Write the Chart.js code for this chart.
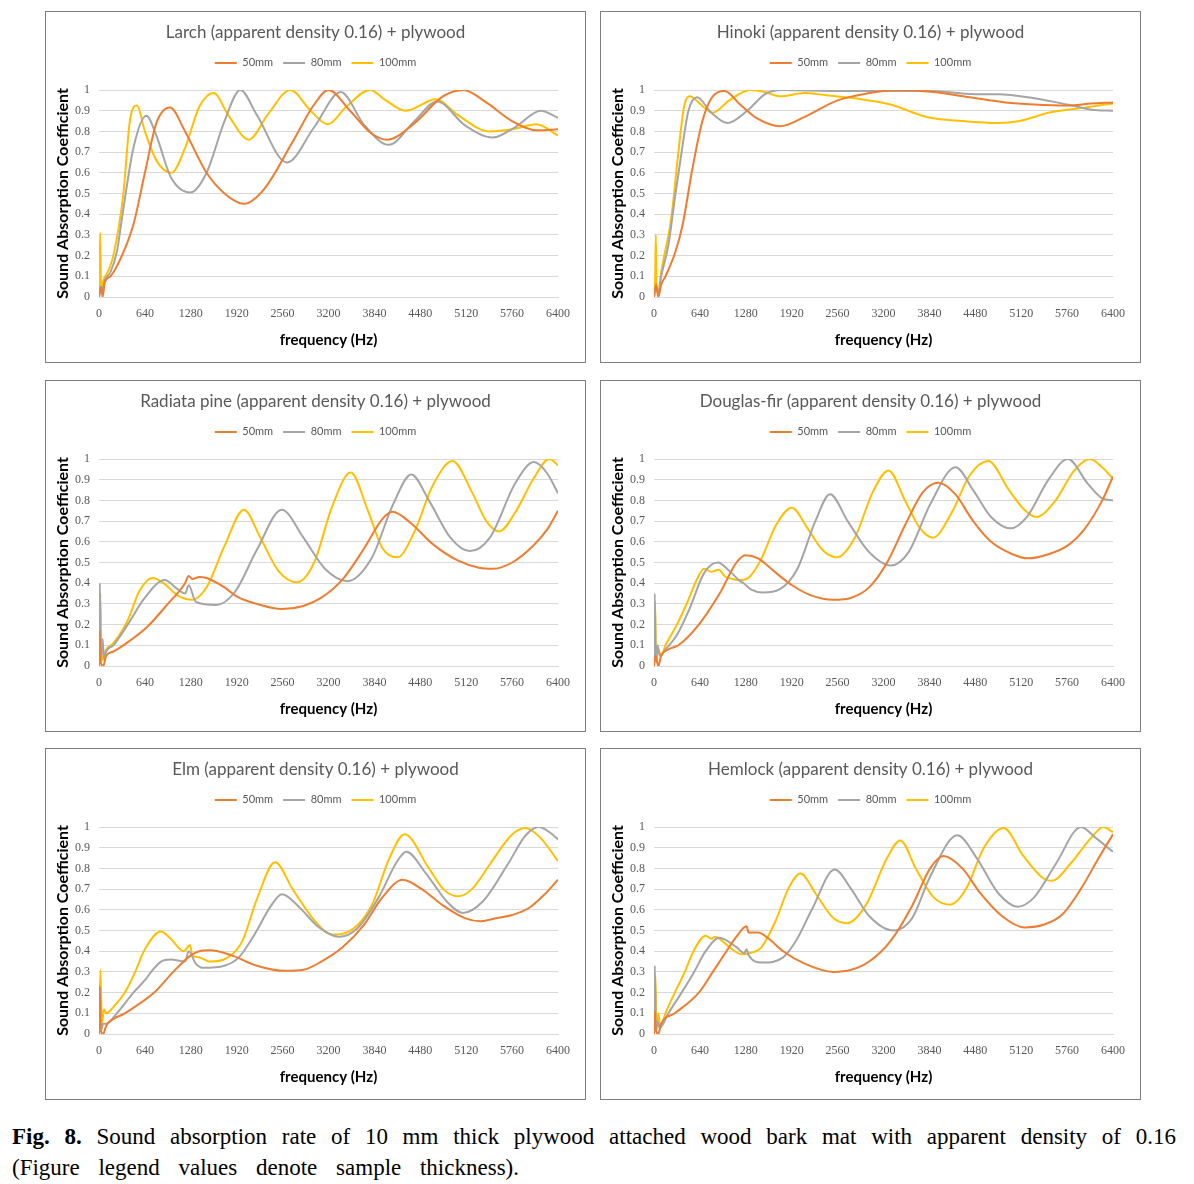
<!DOCTYPE html>
<html>
<head>
<meta charset="utf-8">
<script src="https://cdn.jsdelivr.net/npm/chart.js@4/dist/chart.umd.min.js"></script>
<style>
  body { margin: 0; background: #fff; width: 1194px; height: 1184px; position: relative; overflow: hidden; }
  .panel { position: absolute; width: 541px; height: 352px; box-sizing: border-box; border: 1px solid #7f7f7f; background: #fff; }
  .panel canvas { display: block; }
  .caption { position: absolute; left: 12px; top: 1121px; width: 1164px; font-family: "Liberation Serif", "Times New Roman", serif; font-size: 23px; line-height: 31px; color: #000; }
  .caption .l1 { text-align: justify; text-align-last: justify; white-space: nowrap; }
  .caption .l2 { word-spacing: 13px; white-space: nowrap; }
</style>
</head>
<body>
<div class="panel" style="left:45px;top:11px"><canvas id="c0" width="539" height="350"></canvas></div>
<div class="panel" style="left:600px;top:11px"><canvas id="c1" width="539" height="350"></canvas></div>
<div class="panel" style="left:45px;top:380px"><canvas id="c2" width="539" height="350"></canvas></div>
<div class="panel" style="left:600px;top:380px"><canvas id="c3" width="539" height="350"></canvas></div>
<div class="panel" style="left:45px;top:748px"><canvas id="c4" width="539" height="350"></canvas></div>
<div class="panel" style="left:600px;top:748px"><canvas id="c5" width="539" height="350"></canvas></div>
<div class="caption">
  <div class="l1"><b>Fig. 8.</b> Sound absorption rate of 10 mm thick plywood attached wood bark mat with apparent density of 0.16</div>
  <div class="l2">(Figure legend values denote sample thickness).</div>
</div>
<script>
const titles = [
  'Larch (apparent density 0.16) + plywood',
  'Hinoki (apparent density 0.16) + plywood',
  'Radiata pine (apparent density 0.16) + plywood',
  'Douglas-fir (apparent density 0.16) + plywood',
  'Elm (apparent density 0.16) + plywood',
  'Hemlock (apparent density 0.16) + plywood'
];
const seriesNames = ['50mm', '80mm', '100mm'];
const seriesColors = ['#ED7D31', '#A5A5A5', '#FFC000'];
const xTicks = [0, 640, 1280, 1920, 2560, 3200, 3840, 4480, 5120, 5760, 6400];

// [frequency (Hz), absorption coefficient]
const larch50 = [[0,0],[30,0.05],[50,0],[80,0.07],[160,0.1],[320,0.2],[480,0.35],[640,0.6],[800,0.84],[990,0.915],[1200,0.8],[1500,0.6],[1750,0.5],[2020,0.45],[2300,0.52],[2700,0.75],[3000,0.93],[3200,1.0],[3500,0.9],[3800,0.79],[4020,0.76],[4400,0.84],[4800,0.97],[5080,1.0],[5400,0.94],[5760,0.85],[6110,0.805],[6400,0.81]];
const larch80 = [[0,0],[20,0.05],[40,0.02],[80,0.08],[160,0.12],[250,0.22],[320,0.38],[480,0.72],[660,0.875],[800,0.78],[1000,0.58],[1275,0.505],[1500,0.6],[1750,0.85],[1970,1.0],[2200,0.88],[2620,0.65],[3000,0.82],[3370,0.99],[3700,0.83],[4040,0.735],[4400,0.85],[4715,0.945],[5100,0.83],[5490,0.77],[5800,0.82],[6160,0.9],[6400,0.865]];
const larch100 = [[0,0],[16,0.31],[30,0.03],[60,0.08],[120,0.12],[200,0.2],[340,0.5],[430,0.85],[530,0.925],[640,0.8],[800,0.66],[1010,0.6],[1200,0.72],[1400,0.92],[1600,0.985],[1800,0.88],[2090,0.76],[2350,0.88],[2670,1.0],[2950,0.9],[3190,0.835],[3450,0.92],[3780,1.0],[4000,0.95],[4270,0.9],[4700,0.955],[5000,0.88],[5440,0.8],[5760,0.81],[6100,0.835],[6400,0.78]];

const hinoki50 = [[0,0],[30,0.06],[60,0],[100,0.06],[160,0.1],[300,0.22],[400,0.35],[530,0.61],[675,0.85],[800,0.96],[985,0.995],[1200,0.93],[1450,0.86],[1755,0.825],[2100,0.87],[2560,0.95],[3000,0.985],[3400,1.0],[3900,0.99],[4400,0.965],[4900,0.94],[5300,0.93],[5760,0.925],[6100,0.935],[6400,0.94]];
const hinoki80 = [[0,0],[20,0.05],[60,0.02],[100,0.1],[200,0.25],[300,0.5],[385,0.7],[480,0.9],[600,0.965],[800,0.89],[1025,0.84],[1300,0.9],[1550,0.98],[1780,1.0],[2600,0.995],[3840,0.995],[4480,0.98],[4800,0.98],[5300,0.96],[5760,0.93],[6100,0.905],[6400,0.9]];
const hinoki100 = [[0,0],[16,0.08],[25,0.3],[35,0.05],[60,0.02],[100,0.12],[240,0.38],[340,0.7],[420,0.92],[505,0.97],[620,0.94],[816,0.89],[1050,0.95],[1345,1.0],[1550,0.99],[1755,0.97],[2100,0.985],[2400,0.975],[2800,0.96],[3300,0.93],[3800,0.87],[4300,0.85],[4800,0.84],[5100,0.85],[5500,0.89],[5900,0.91],[6400,0.935]];

const radiata50 = [[0,0],[10,0.17],[20,0.02],[60,0],[100,0.05],[200,0.07],[360,0.105],[675,0.19],[960,0.3],[1200,0.4],[1250,0.435],[1300,0.42],[1400,0.43],[1500,0.425],[1750,0.38],[1925,0.335],[2200,0.3],[2550,0.275],[2850,0.29],[3100,0.33],[3400,0.42],[3700,0.57],[3950,0.71],[4090,0.745],[4350,0.69],[4650,0.59],[5000,0.51],[5300,0.475],[5500,0.47],[5760,0.5],[6050,0.58],[6250,0.66],[6400,0.75]];
const radiata80 = [[0,0],[12,0.4],[25,0.03],[50,0.13],[70,0.03],[100,0.07],[200,0.1],[400,0.2],[640,0.33],[915,0.415],[1100,0.37],[1200,0.35],[1250,0.39],[1350,0.31],[1635,0.295],[1900,0.36],[2200,0.56],[2550,0.755],[2850,0.62],[3150,0.47],[3465,0.41],[3800,0.52],[4100,0.78],[4355,0.925],[4600,0.8],[4900,0.62],[5170,0.555],[5450,0.62],[5800,0.88],[6065,0.985],[6250,0.93],[6400,0.835]];
const radiata100 = [[0,0],[20,0.35],[30,0.02],[60,0.05],[100,0.08],[200,0.11],[400,0.22],[560,0.36],[745,0.425],[900,0.4],[1100,0.34],[1300,0.32],[1500,0.38],[1750,0.58],[2020,0.755],[2250,0.62],[2500,0.46],[2765,0.405],[3000,0.5],[3250,0.77],[3510,0.935],[3750,0.75],[3950,0.57],[4160,0.525],[4400,0.65],[4650,0.87],[4930,0.99],[5200,0.84],[5400,0.7],[5580,0.65],[5800,0.74],[6050,0.9],[6280,1.0],[6400,0.97]];

const douglas50 = [[0,0],[20,0.05],[60,0],[100,0.05],[200,0.08],[340,0.1],[625,0.2],[915,0.35],[1150,0.5],[1275,0.535],[1450,0.52],[1700,0.45],[1925,0.39],[2200,0.34],[2500,0.32],[2750,0.33],[3000,0.38],[3250,0.5],[3500,0.68],[3750,0.84],[3965,0.885],[4200,0.83],[4450,0.7],[4700,0.6],[5000,0.54],[5215,0.52],[5500,0.54],[5760,0.58],[6000,0.66],[6250,0.8],[6400,0.915]];
const douglas80 = [[0,0],[10,0.35],[25,0.02],[50,0.1],[80,0.05],[160,0.08],[320,0.15],[500,0.28],[700,0.45],[890,0.5],[1050,0.46],[1200,0.41],[1250,0.4],[1350,0.37],[1515,0.355],[1750,0.37],[2000,0.47],[2250,0.7],[2455,0.83],[2700,0.7],[3000,0.55],[3300,0.485],[3550,0.55],[3850,0.78],[4205,0.96],[4450,0.85],[4700,0.72],[4975,0.665],[5200,0.72],[5500,0.9],[5770,1.0],[6050,0.88],[6250,0.81],[6400,0.8]];
const douglas100 = [[0,0],[15,0.31],[30,0.02],[60,0.08],[100,0.05],[160,0.1],[320,0.2],[480,0.32],[600,0.42],[700,0.47],[800,0.455],[900,0.465],[1000,0.43],[1105,0.42],[1200,0.415],[1330,0.43],[1500,0.52],[1700,0.68],[1920,0.765],[2150,0.66],[2350,0.56],[2545,0.525],[2800,0.62],[3050,0.84],[3270,0.945],[3500,0.8],[3700,0.67],[3890,0.62],[4150,0.74],[4400,0.92],[4660,0.99],[4950,0.85],[5150,0.76],[5330,0.72],[5600,0.8],[5850,0.94],[6075,1.0],[6250,0.96],[6400,0.905]];

const elm50 = [[0,0],[8,0.23],[20,0.02],[60,0],[90,0.03],[120,0.05],[360,0.1],[770,0.2],[1035,0.3],[1280,0.38],[1395,0.4],[1550,0.405],[1850,0.38],[2200,0.33],[2600,0.305],[2850,0.31],[3100,0.35],[3400,0.42],[3700,0.53],[3950,0.66],[4235,0.745],[4500,0.7],[4800,0.62],[5100,0.56],[5320,0.545],[5550,0.56],[5760,0.575],[6000,0.61],[6200,0.67],[6400,0.745]];
const elm80 = [[0,0],[15,0.22],[30,0.02],[60,0.05],[100,0.05],[250,0.1],[480,0.2],[640,0.26],[750,0.31],[865,0.35],[1000,0.36],[1200,0.35],[1250,0.4],[1350,0.34],[1445,0.32],[1750,0.33],[1950,0.37],[2150,0.47],[2400,0.62],[2550,0.675],[2800,0.61],[3050,0.52],[3345,0.47],[3600,0.51],[3900,0.66],[4150,0.83],[4285,0.88],[4550,0.78],[4850,0.64],[5075,0.585],[5350,0.64],[5700,0.82],[5950,0.96],[6135,1.0],[6300,0.97],[6400,0.94]];
const elm100 = [[0,0],[20,0.31],[40,0.05],[70,0.12],[100,0.1],[200,0.13],[360,0.2],[505,0.3],[625,0.4],[865,0.495],[1000,0.46],[1180,0.4],[1270,0.43],[1300,0.38],[1400,0.37],[1540,0.35],[1800,0.37],[2000,0.45],[2200,0.65],[2455,0.83],[2700,0.7],[3000,0.55],[3250,0.48],[3450,0.49],[3800,0.62],[4050,0.85],[4260,0.965],[4600,0.8],[4800,0.7],[5005,0.665],[5200,0.7],[5450,0.82],[5750,0.96],[5940,0.995],[6150,0.95],[6400,0.835]];

const hemlock50 = [[0,0],[10,0.11],[25,0.02],[60,0],[100,0.05],[290,0.1],[625,0.2],[820,0.3],[1010,0.4],[1150,0.47],[1290,0.52],[1320,0.49],[1450,0.49],[1600,0.46],[1800,0.4],[2100,0.34],[2500,0.3],[2750,0.31],[3000,0.35],[3300,0.45],[3600,0.62],[3850,0.8],[4035,0.86],[4300,0.8],[4550,0.68],[4850,0.57],[5165,0.515],[5450,0.53],[5700,0.58],[5950,0.7],[6200,0.85],[6400,0.965]];
const hemlock80 = [[0,0],[12,0.33],[25,0.02],[50,0.06],[80,0.03],[200,0.1],[385,0.2],[560,0.3],[720,0.4],[910,0.465],[1150,0.42],[1260,0.39],[1290,0.41],[1320,0.38],[1510,0.345],[1800,0.37],[1980,0.45],[2200,0.6],[2520,0.795],[2750,0.7],[3000,0.57],[3340,0.5],[3600,0.56],[3850,0.76],[4230,0.96],[4500,0.85],[4800,0.68],[5070,0.615],[5300,0.66],[5600,0.82],[5955,1.0],[6150,0.95],[6400,0.88]];
const hemlock100 = [[0,0],[20,0.28],[35,0.02],[60,0.1],[90,0.03],[160,0.1],[290,0.2],[430,0.3],[550,0.4],[720,0.475],[800,0.46],[850,0.47],[1050,0.42],[1225,0.385],[1330,0.39],[1500,0.42],[1700,0.55],[1870,0.7],[2045,0.775],[2250,0.68],[2500,0.56],[2690,0.535],[2950,0.62],[3250,0.85],[3435,0.935],[3650,0.8],[3900,0.66],[4130,0.625],[4350,0.7],[4600,0.9],[4875,0.995],[5150,0.86],[5400,0.76],[5550,0.74],[5800,0.82],[6100,0.95],[6265,1.0],[6400,0.975]];

const panels = [
  [larch50, larch80, larch100],
  [hinoki50, hinoki80, hinoki100],
  [radiata50, radiata80, radiata100],
  [douglas50, douglas80, douglas100],
  [elm50, elm80, elm100],
  [hemlock50, hemlock80, hemlock100]
];

const tickFont = { family: '"Liberation Serif", serif', size: 12 };

panels.forEach((series, i) => {
  const ctx = document.getElementById('c' + i).getContext('2d');
  new Chart(ctx, {
    type: 'line',
    data: {
      datasets: series.map((pts, k) => ({
        label: seriesNames[k],
        data: pts.map(p => ({ x: p[0], y: p[1] })),
        borderColor: seriesColors[k],
        backgroundColor: seriesColors[k],
        borderWidth: 2,
        pointRadius: 0,
        cubicInterpolationMode: 'monotone'
      }))
    },
    options: {
      responsive: false,
      animation: false,
      devicePixelRatio: 1,
      layout: { padding: 0 },
      plugins: {
        title: {
          display: true,
          text: titles[i],
          color: '#595959',
          font: { family: 'Lato', size: 17, weight: 'normal' },
          padding: { top: 10, bottom: 5 }
        },
        // empty subtitle placed between legend and plot, used as spacing
        subtitle: {
          display: true,
          text: '',
          weight: 500,
          font: { size: 1 },
          padding: { top: 0, bottom: 10.4 }
        },
        legend: {
          display: true,
          labels: {
            usePointStyle: true,
            pointStyle: 'line',
            pointStyleWidth: 22,
            color: '#595959',
            font: { family: 'Lato', size: 11 },
            padding: 10
          }
        },
        tooltip: { enabled: false }
      },
      scales: {
        x: {
          type: 'linear',
          min: 0,
          max: 6400,
          afterBuildTicks: s => { s.ticks = xTicks.map(v => ({ value: v })); },
          afterFit: s => { s.height = 65; s.paddingRight = 27; },
          grid: { display: false, drawTicks: false },
          border: { display: true, color: '#d9d9d9' },
          ticks: { color: '#595959', font: tickFont, padding: 10, maxRotation: 0, autoSkip: false,
                   callback: v => String(v) },
          title: {
            display: true,
            text: 'frequency (Hz)',
            color: '#000',
            font: { family: 'Lato', size: 15, weight: 'bold' },
            padding: { top: 0, bottom: 13 }
          }
        },
        y: {
          min: 0,
          max: 1,
          afterFit: s => { s.width = 53; },
          grid: { color: '#d9d9d9', drawTicks: false },
          border: { display: false },
          ticks: { stepSize: 0.1, color: '#595959', font: tickFont, padding: 9,
                   callback: v => String(Math.round(v * 10) / 10) },
          title: {
            display: true,
            text: 'Sound Absorption Coefficient',
            color: '#000',
            font: { family: 'Lato', size: 16, weight: 'bold' },
            padding: { top: 7, bottom: 0 }
          }
        }
      }
    }
  });
});
</script>
</body>
</html>
